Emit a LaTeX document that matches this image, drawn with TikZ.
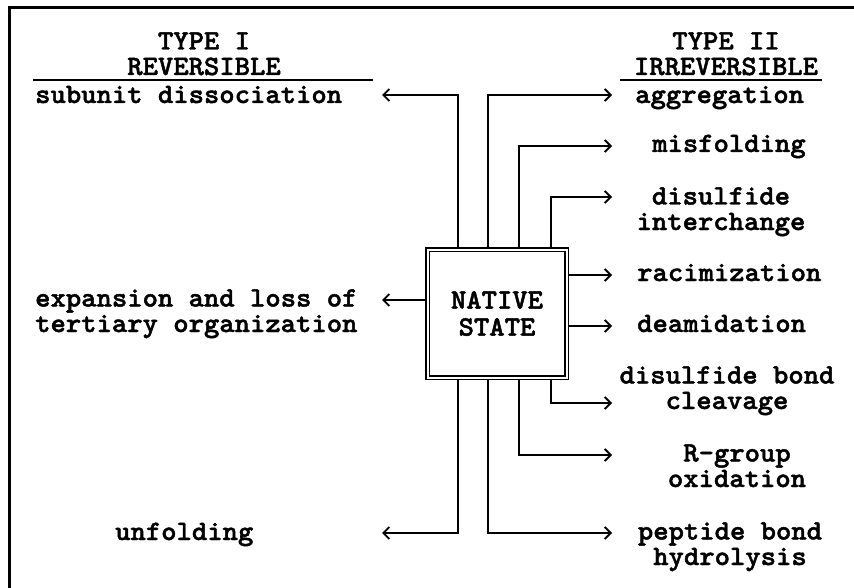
\documentclass[tikz,border=0pt]{standalone}
\usepackage{fontspec}
\usetikzlibrary{arrows.meta}
% heavy typewriter face, widened to a Courier-like advance
\newfontfamily\typ{lmmonolt10-bold}[Extension=.otf, FakeStretch=1.044, FakeBold=1.6]

\begin{document}
\begin{tikzpicture}[x=1pt, y=-1pt,
  lbl/.style={font={\typ\fontsize{28pt}{25.5pt}\selectfont}, inner sep=0pt, anchor=base},
  conn/.style={line width=1.9pt, line join=miter},
  tipped/.style={conn, -{Straight Barb[length=6pt, width=12pt]}},
  nativebox/.style={draw, double, double distance=2pt, line width=1.5pt,
    minimum width=139pt, minimum height=128pt, inner sep=0pt, outer sep=2.5pt,
    align=center, font={\typ\fontsize{28pt}{27pt}\selectfont}},
  rule/.style={line width=1.6pt}]
\useasboundingbox (0,0) rectangle (854,588);

% frame
\draw[line width=2.5pt] (9.5,588) -- (9.5,7.5) -- (854,7.5);

% central state
\node[nativebox] (native) at (497,313.5) {NATIVE\\STATE};

% column headings (multi-line nodes sit on their last baseline)
\node[lbl, align=center] (hdrI) at (204,75) {TYPE I\\REVERSIBLE};
\node[lbl, align=center] (hdrII) at (726,75) {TYPE II\\IRREVERSIBLE};
\draw[rule] (33,80) -- (373,80);
\draw[rule] (620,80) -- (822,80);

% reversible changes
\node[lbl, anchor=base west] (sub) at (35,103) {subunit dissociation};
\node[lbl, anchor=base west, align=left] (exp) at (35,332) {expansion and loss of\\tertiary organization};
\node[lbl, anchor=base west] (unf) at (115,540) {unfolding};

% irreversible changes
\node[lbl, anchor=base west] (agg) at (635,103) {aggregation};
\node[lbl, anchor=base west] (mis) at (652,152) {misfolding};
\node[lbl, align=center] (dint) at (721,230) {disulfide\\interchange};
\node[lbl, anchor=base west] (rac) at (637,281) {racimization};
\node[lbl, anchor=base west] (dea) at (637,332) {deamidation};
\node[lbl, align=center] (dbc) at (727,409) {disulfide bond\\cleavage};
\node[lbl, align=center] (rgo) at (737,487) {R-group\\oxidation};
\node[lbl, align=center] (pep) at (730,565) {peptide bond\\hydrolysis};

% stems leaving the top and bottom of the box
\coordinate (s1) at (458,0);
\coordinate (s2) at (488,0);
\coordinate (s3) at (519,0);
\coordinate (s4) at (551,0);

% arrow tips next to each label
\coordinate (sub-tip)  at (382,95);
\coordinate (exp-tip)  at (382,300);
\coordinate (unf-tip)  at (382,533);
\coordinate (agg-tip)  at (612,95);
\coordinate (mis-tip)  at (612,146);
\coordinate (dint-tip) at (612,197);
\coordinate (rac-tip)  at (612,275);
\coordinate (dea-tip)  at (612,326);
\coordinate (dbc-tip)  at (612,403);
\coordinate (rgo-tip)  at (612,455);
\coordinate (pep-tip)  at (612,533);

% connectors
\draw[tipped] (s1 |- native.north) |- (sub-tip);
\draw[tipped] (s2 |- native.north) |- (agg-tip);
\draw[tipped] (s3 |- native.north) |- (mis-tip);
\draw[tipped] (s4 |- native.north) |- (dint-tip);
\draw[tipped] (native.west |- exp-tip) -- (exp-tip);
\draw[tipped] (native.east |- rac-tip) -- (rac-tip);
\draw[tipped] (native.east |- dea-tip) -- (dea-tip);
\draw[tipped] (s4 |- native.south) |- (dbc-tip);
\draw[tipped] (s3 |- native.south) |- (rgo-tip);
\draw[tipped] (s2 |- native.south) |- (pep-tip);
\draw[tipped] (s1 |- native.south) |- (unf-tip);
\end{tikzpicture}
\end{document}
